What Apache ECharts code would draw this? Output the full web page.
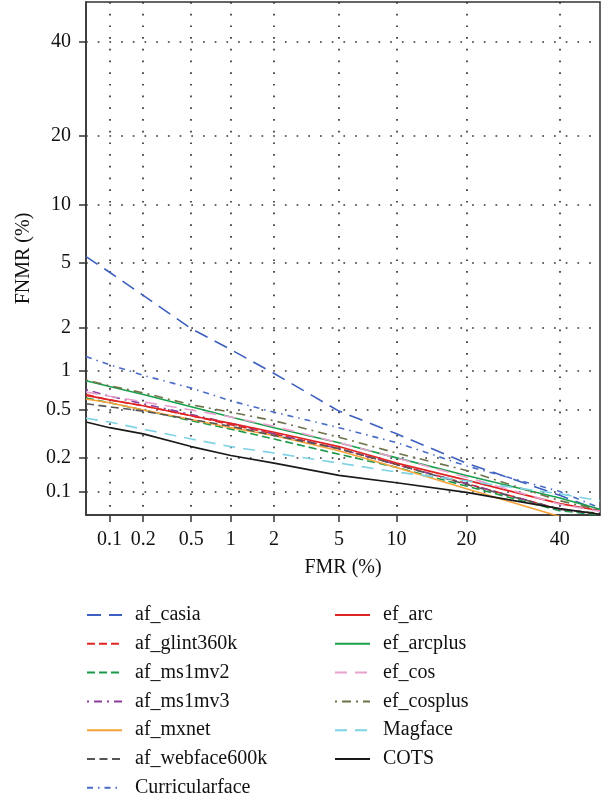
<!DOCTYPE html>
<html>
<head>
<meta charset="utf-8">
<script src="https://cdn.jsdelivr.net/npm/echarts@6/dist/echarts.min.js"></script>
<style>
html,body{margin:0;padding:0;background:#fff;}
#chart{width:604px;height:799px;}
</style>
</head>
<body>
<div id="chart"></div>
<script>
// ---- data (percent) ----
const fmrPoints = [0.06, 0.1, 0.2, 0.5, 1, 2, 5, 10, 20, 40, 50];
const tickLabels = ['0.1', '0.2', '0.5', '1', '2', '5', '10', '20', '40'];
const axisLimits = [0.06, 50];

const seriesNames = ['af_casia','af_glint360k','af_ms1mv2','af_ms1mv3','af_mxnet','af_webface600k','Curricularface',
                     'ef_arc','ef_arcplus','ef_cos','ef_cosplus','Magface','COTS'];

const af_casia       = [5.4, 4.4, 3.2, 1.96, 1.41, 0.95, 0.49, 0.32, 0.18, 0.092, 0.066];
const af_glint360k   = [0.66, 0.60, 0.54, 0.45, 0.38, 0.32, 0.24, 0.175, 0.118, 0.068, 0.061];
const af_ms1mv2      = [0.62, 0.57, 0.50, 0.41, 0.35, 0.29, 0.215, 0.165, 0.112, 0.066, 0.060];
const af_ms1mv3      = [0.72, 0.64, 0.56, 0.46, 0.39, 0.32, 0.24, 0.175, 0.118, 0.068, 0.061];
const af_mxnet       = [0.61, 0.57, 0.50, 0.42, 0.36, 0.31, 0.23, 0.165, 0.106, 0.058, 0.050];
const af_webface600k = [0.56, 0.53, 0.49, 0.42, 0.37, 0.31, 0.24, 0.175, 0.116, 0.068, 0.062];
const Curricularface = [1.26, 1.10, 0.92, 0.74, 0.59, 0.48, 0.36, 0.27, 0.17, 0.10, 0.07];
const ef_arc         = [0.65, 0.60, 0.54, 0.45, 0.39, 0.33, 0.25, 0.18, 0.127, 0.077, 0.066];
const ef_arcplus     = [0.84, 0.76, 0.66, 0.53, 0.44, 0.36, 0.27, 0.20, 0.14, 0.087, 0.068];
const ef_cos         = [0.69, 0.64, 0.58, 0.50, 0.44, 0.37, 0.27, 0.20, 0.135, 0.076, 0.065];
const ef_cosplus     = [0.85, 0.77, 0.68, 0.55, 0.48, 0.41, 0.30, 0.22, 0.155, 0.082, 0.067];
const Magface        = [0.43, 0.40, 0.35, 0.29, 0.25, 0.22, 0.18, 0.15, 0.125, 0.095, 0.082];
const COTS           = [0.40, 0.36, 0.32, 0.25, 0.21, 0.18, 0.14, 0.12, 0.098, 0.069, 0.061];

const seriesValues = [af_casia, af_glint360k, af_ms1mv2, af_ms1mv3, af_mxnet, af_webface600k, Curricularface,
                      ef_arc, ef_arcplus, ef_cos, ef_cosplus, Magface, COTS];

// ---- styles ----
const styles = [
  {color:'#3d5fbd', type:[14,8]},
  {color:'#e02424', type:[8,4]},
  {color:'#1a9a48', type:[8,4]},
  {color:'#8a3f9c', type:[2,5,8,5]},
  {color:'#f7a23a', type:'solid'},
  {color:'#555555', type:[8,4.5]},
  {color:'#4a6cc8', type:[6,5,1.5,5]},
  {color:'#e02424', type:'solid'},
  {color:'#19a04d', type:'solid'},
  {color:'#e9a2cf', type:[12,8]},
  {color:'#6e7248', type:[2,5,9,5]},
  {color:'#7fd2e4', type:[12,8]},
  {color:'#1a1a1a', type:'solid'}
];

// inverse standard normal CDF (probit) - axis transform for DET plot
function probit(p){
  const a=[-3.969683028665376e+01,2.209460984245205e+02,-2.759285104469687e+02,1.383577518672690e+02,-3.066479806614716e+01,2.506628277459239e+00];
  const b=[-5.447609879822406e+01,1.615858368580409e+02,-1.556989798598866e+02,6.680131188771972e+01,-1.328068155288572e+01];
  const c=[-7.784894002430293e-03,-3.223964580411365e-01,-2.400758277161838e+00,-2.549732539343734e+00,4.374664141464968e+00,2.938163982698783e+00];
  const d=[7.784695709041462e-03,3.224671290700398e-01,2.445134137142996e+00,3.754408661907416e+00];
  const pl=0.02425, ph=1-pl; let q,r;
  if(p<pl){q=Math.sqrt(-2*Math.log(p));return (((((c[0]*q+c[1])*q+c[2])*q+c[3])*q+c[4])*q+c[5])/((((d[0]*q+d[1])*q+d[2])*q+d[3])*q+1);}
  if(p<=ph){q=p-0.5;r=q*q;return (((((a[0]*r+a[1])*r+a[2])*r+a[3])*r+a[4])*r+a[5])*q/(((((b[0]*r+b[1])*r+b[2])*r+b[3])*r+b[4])*r+1);}
  q=Math.sqrt(-2*Math.log(1-p));return -(((((c[0]*q+c[1])*q+c[2])*q+c[3])*q+c[4])*q+c[5])/((((d[0]*q+d[1])*q+d[2])*q+d[3])*q+1);
}
const P = v => probit(v/100);
const tickPos = tickLabels.map(t => P(parseFloat(t)));
function labelFor(v){
  let best=0, bd=Infinity;
  tickPos.forEach((t,i)=>{const dd=Math.abs(t-v); if(dd<bd){bd=dd;best=i;}});
  return tickLabels[best];
}

const FONT = '"Liberation Serif", "Times New Roman", serif';
const fs = 20;

function makeAxis(isX){
  return {
    type:'value',
    min: P(axisLimits[0]),
    max: P(axisLimits[1]),
    name: isX ? 'FMR (%)' : 'FNMR (%)',
    nameLocation:'middle',
    nameGap: isX ? 43 : 52,
    nameTextStyle:{fontFamily:FONT, fontSize:fs, color:'#111'},
    axisLine:{show:true, onZero:false, lineStyle:{color:'#333', width:1.5}},
    axisTick:{show:true, inside:false, length:7, customValues:tickPos, lineStyle:{color:'#333', width:1.5}},
    axisLabel:{show:true, customValues:tickPos, margin:15, fontFamily:FONT, fontSize:fs, color:'#111',
               formatter: v => labelFor(v)},
    splitLine:{show:true, lineStyle:{color:'#333', width:1.7, type:[1.7,10]}},
    minorTick:{show:false}
  };
}

const series = seriesNames.map((name,i)=>({
  name:name,
  type:'line',
  symbol:'none',
  smooth:false,
  clip:true,
  lineStyle:{color:styles[i].color, type:styles[i].type, width:1.6},
  itemStyle:{color:styles[i].color},
  data: fmrPoints.map((x,j)=>[P(x), P(seriesValues[i][j])]),
  z: 3
}));

const legendText = {fontFamily:FONT, fontSize:fs, color:'#111', padding:[0,0,0,8], lineHeight:20};
function makeLegend(names, left){
  return {data:names, orient:'vertical', left:left, top:605, height:230, padding:0,
          itemWidth:35, itemHeight:14, itemGap:8.8,
          itemStyle:{opacity:0}, textStyle:legendText, selectedMode:false};
}
const option = {
  animation:false,
  backgroundColor:'#fff',
  grid:{left:86, top:2, width:514, height:513, show:true, borderColor:'#333', borderWidth:1.5, containLabel:false},
  xAxis: makeAxis(true),
  yAxis: makeAxis(false),
  legend:[ makeLegend(seriesNames.slice(0,7), 86), makeLegend(seriesNames.slice(7), 334) ],
  series: series
};
const chart = echarts.init(document.getElementById('chart'), null, {renderer:'canvas'});
chart.setOption(option);
</script>
</body>
</html>
